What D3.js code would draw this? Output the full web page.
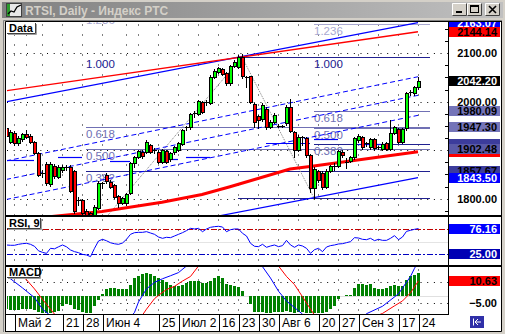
<!DOCTYPE html>
<html><head><meta charset="utf-8">
<script src="https://cdn.jsdelivr.net/npm/d3@7"></script>
<style>
html,body{margin:0;padding:0;background:#d4d0c8;overflow:hidden}
svg{display:block}
text{font-family:"Liberation Sans",Arial,sans-serif}
</style></head><body>
<svg id="chart" width="505" height="334"></svg>
<script>
// ---- RTSI daily bars, 27 Apr - 24 Sep 2007 ----
const dates = ["2007-04-27","2007-04-28","2007-05-02","2007-05-03","2007-05-04","2007-05-07","2007-05-08","2007-05-10","2007-05-11","2007-05-14",
"2007-05-15","2007-05-16","2007-05-17","2007-05-18","2007-05-21","2007-05-22","2007-05-23","2007-05-24","2007-05-25","2007-05-28",
"2007-05-29","2007-05-30","2007-05-31","2007-06-01","2007-06-04","2007-06-05","2007-06-06","2007-06-07","2007-06-08","2007-06-09",
"2007-06-13","2007-06-14","2007-06-15","2007-06-18","2007-06-19","2007-06-20","2007-06-21","2007-06-22","2007-06-25","2007-06-26",
"2007-06-27","2007-06-28","2007-06-29","2007-07-02","2007-07-03","2007-07-04","2007-07-05","2007-07-06","2007-07-09","2007-07-10",
"2007-07-11","2007-07-12","2007-07-13","2007-07-16","2007-07-17","2007-07-18","2007-07-19","2007-07-20","2007-07-23","2007-07-24",
"2007-07-25","2007-07-26","2007-07-27","2007-07-30","2007-07-31","2007-08-01","2007-08-02","2007-08-03","2007-08-06","2007-08-07",
"2007-08-08","2007-08-09","2007-08-10","2007-08-13","2007-08-14","2007-08-15","2007-08-16","2007-08-17","2007-08-20","2007-08-21",
"2007-08-22","2007-08-23","2007-08-24","2007-08-27","2007-08-28","2007-08-29","2007-08-30","2007-08-31","2007-09-03","2007-09-04",
"2007-09-05","2007-09-06","2007-09-07","2007-09-10","2007-09-11","2007-09-12","2007-09-13","2007-09-14","2007-09-17","2007-09-18",
"2007-09-19","2007-09-20","2007-09-21","2007-09-24"];
// empty slots to the right of the last bar (chart shift)
const futureDates = ["2007-09-25","2007-09-26","2007-09-27","2007-09-28","2007-10-01","2007-10-02","2007-10-03","2007-10-04"];

const open = [1945.8,1917.5,1934.8,1914.2,1922.5,1932.8,1929.9,1916.3,1893.6,1852.4,
1871.5,1830.3,1867.4,1844.7,1859.2,1865.3,1865.3,1857.1,1795.2,1796.3,
1774.6,1770.5,1762.2,1781.8,1831.7,1848.8,1835.0,1828.2,1805.5,1791.7,
1790.5,1812.4,1874.2,1886.6,1896.9,1896.9,1910.7,1900.4,1896.9,1876.3,
1898.3,1881.2,1896.3,1900.4,1912.8,1947.2,1947.2,1976.7,1974.6,1999.4,
2000.0,1997.9,2051.5,2060.6,2066.8,2058.6,2037.9,2073.6,2071.5,2092.2,
2050.3,2052.0,1995.3,1970.5,1963.7,1984.9,1948.4,1958.8,1950.9,1950.5,
1955.5,1990.1,1937.5,1900.4,1926.6,1925.1,1890.1,1821.4,1856.1,1854.0,
1824.1,1857.7,1867.4,1867.4,1897.3,1876.3,1878.3,1885.3,1921.0,1927.8,
1914.2,1906.0,1922.5,1906.0,1901.8,1914.2,1901.8,1934.8,1943.1,1917.5,
1945.1,2019.4,2017.3,2029.7];
const high = [1949.9,1941.6,1939.6,1929.3,1935.5,1941.6,1933.4,1919.0,1896.3,1859.2,
1875.7,1875.7,1871.5,1869.5,1869.5,1869.5,1869.5,1859.2,1803.5,1799.4,
1778.7,1772.6,1787.0,1836.5,1835.0,1853.0,1838.5,1830.3,1807.6,1803.5,
1812.4,1875.7,1888.0,1901.4,1900.4,1921.0,1913.8,1903.9,1900.4,1903.5,
1901.4,1896.3,1909.7,1916.9,1944.7,1949.9,1977.7,1980.8,2004.5,2002.5,
2004.5,2055.0,2067.4,2072.2,2069.5,2061.2,2076.7,2086.0,2096.3,2098.4,
2052.0,2054.0,1997.3,1972.6,1997.3,1989.1,1962.3,1975.7,1954.0,1953.0,
1993.2,2004.9,1939.6,1931.3,1930.3,1928.2,1893.2,1865.3,1859.2,1857.1,
1861.2,1870.5,1872.6,1901.4,1900.4,1883.9,1888.0,1927.2,1932.4,1930.3,
1917.9,1925.1,1925.1,1909.7,1915.9,1916.9,1962.3,1949.9,1945.8,1945.8,
2020.0,2024.1,2033.4,2051.5];
const low = [1925.1,1914.8,1910.7,1910.7,1919.0,1926.2,1914.8,1892.2,1846.8,1844.7,
1828.2,1826.2,1842.7,1842.7,1855.0,1859.2,1813.8,1770.5,1787.0,1768.4,
1740.0,1745.7,1751.9,1778.7,1821.4,1832.4,1822.0,1801.4,1783.5,1789.1,
1787.0,1809.7,1866.0,1883.9,1884.9,1894.2,1894.2,1893.6,1873.6,1873.6,
1873.6,1878.7,1893.2,1898.3,1910.7,1942.7,1944.7,1968.4,1972.6,1976.7,
1993.2,1995.3,2048.9,2058.6,2055.0,2034.4,2034.4,2071.5,2069.5,2049.9,
2030.9,1997.3,1947.8,1946.8,1960.2,1944.7,1945.8,1956.1,1947.8,1947.8,
1951.9,1937.5,1886.0,1898.3,1910.7,1886.0,1813.8,1801.5,1835.4,1821.0,
1822.0,1855.0,1860.2,1865.3,1887.0,1863.3,1875.7,1882.9,1917.9,1903.5,
1908.6,1903.5,1901.4,1902.5,1899.4,1899.4,1899.4,1932.4,1914.8,1914.8,
1942.7,2013.8,2014.8,2027.2];
const close = [1929.3,1936.9,1914.2,1925.8,1932.8,1927.8,1916.3,1893.6,1848.8,1850.9,
1832.4,1871.5,1846.8,1865.3,1865.3,1864.3,1815.9,1774.6,1796.3,1771.5,
1760.2,1754.0,1782.9,1832.4,1830.7,1836.5,1824.7,1804.1,1791.7,1800.8,
1809.7,1873.0,1885.3,1898.3,1888.0,1917.5,1896.9,1899.4,1876.3,1900.4,
1876.3,1893.6,1906.6,1914.2,1941.6,1945.8,1974.6,1975.7,2001.4,1979.4,
1998.8,2051.5,2064.3,2069.5,2057.1,2037.9,2073.6,2081.9,2093.2,2052.0,
2049.3,1999.4,1958.1,1963.3,1994.2,1947.8,1958.8,1972.6,1949.9,1949.5,
1989.7,1940.6,1900.4,1928.2,1925.1,1890.1,1822.0,1861.2,1838.5,1824.1,
1857.7,1867.4,1866.4,1899.0,1890.1,1875.2,1885.3,1924.5,1929.3,1906.0,
1913.2,1922.5,1903.9,1904.9,1912.8,1901.8,1934.8,1947.2,1917.5,1943.1,
2017.3,2018.3,2030.3,2042.2];

// RSI(9)
const rsi = [43.6,43.0,43.0,44.9,46.2,46.9,44.9,41.0,32.0,29.0,
27.0,37.0,36.0,40.0,43.6,40.0,33.7,30.4,28.4,25.0,
23.8,20.5,37.0,51.5,54.8,52.0,48.0,46.0,44.9,47.5,
54.8,64.7,68.0,68.6,68.6,70.0,67.3,64.7,59.4,56.8,
58.8,58.1,61.4,64.7,68.0,72.0,76.6,75.3,76.6,69.9,
75.3,78.6,79.9,80.6,79.2,69.9,73.9,75.3,75.3,66.7,
61.4,46.9,41.0,40.3,44.9,39.0,41.6,43.6,40.3,42.3,
52.8,43.6,39.0,43.6,41.6,37.0,27.1,34.3,37.0,30.4,
39.6,42.3,43.6,45.6,46.2,48.2,50.2,58.1,57.4,54.8,
54.1,56.8,52.2,54.8,52.8,52.8,56.8,62.1,54.1,59.4,
70.6,72.6,74.6,76.16];
const rsiLevels = [75, 25];

// MACD histogram
const macdHist = [-9.1,-9.6,-9.8,-9.6,-9.1,-8.7,-9.1,-9.6,-11.4,-11.9,
-11.9,-11.9,-11.4,-10.3,-6.8,-5.7,-6.4,-8.7,-9.6,-11.0,
-11.9,-11.9,-6.8,-2.7,1.8,4.6,5.7,5.7,4.6,4.6,
4.6,8.0,12.6,14.2,15.5,16.4,15.5,13.7,12.6,11.4,
9.6,8.0,6.8,6.8,8.0,9.1,10.3,10.3,10.3,9.1,
9.1,10.3,12.6,13.7,12.6,8.7,8.0,6.8,6.4,3.4,
0,-5.7,-11.0,-11.4,-11.4,-11.9,-11.9,-11.4,-11.0,-11.4,
-10.5,-11.4,-11.9,-11.4,-11.4,-11.9,-11.9,-11.9,-11.9,-11.9,
-11.4,-9.1,-6.8,-1.8,0,0.5,1.1,5.7,8.7,8.7,
8.0,8.7,5.7,4.6,5.0,5.7,6.8,8.0,6.8,6.8,
11.4,14.2,14.8,16.4];
// two oscillator lines sharing the MACD window (they run off its scale)
const blueOscDates = ["2007-04-27","2007-05-04","2007-05-10","2007-05-14","2007-05-17","2007-05-25","2007-06-05","2007-06-13","2007-06-15","2007-06-18",
"2007-06-20","2007-06-22","2007-06-26","2007-06-28","2007-07-02","2007-07-04","2007-07-11","2007-07-19","2007-07-27","2007-07-31",
"2007-08-02","2007-08-06","2007-08-08","2007-08-10","2007-08-14","2007-08-20","2007-08-28","2007-09-04","2007-09-05","2007-09-11",
"2007-09-17","2007-09-20","2007-09-21","2007-09-24"];
const blueOsc = [14.2,5.7,-1.1,-9.1,-16,-30,-28,-18,-11.4,-4.1,
5.0,9.6,12.1,14.2,16.4,21.0,35,38,28,20.5,
12.6,3.4,-3.4,-8.0,-12.6,-25,-26,-15,-12.3,-7.1,
1.6,13.7,19.4,24];
const redOscDates = ["2007-04-27","2007-04-28","2007-05-03","2007-05-07","2007-05-10","2007-05-14","2007-05-15","2007-05-16","2007-05-17","2007-05-25",
"2007-06-05","2007-06-13","2007-06-19","2007-06-20","2007-06-22","2007-06-25","2007-06-27","2007-06-29","2007-07-03","2007-07-05",
"2007-07-09","2007-07-18","2007-07-27","2007-08-06","2007-08-08","2007-08-10","2007-08-14","2007-08-16","2007-08-17","2007-08-24",
"2007-09-03","2007-09-10","2007-09-11","2007-09-14","2007-09-18","2007-09-20","2007-09-24"];
const redOsc = [23,21,16,11.4,5.0,-2.3,-5.7,-9.1,-12.6,-22,
-26,-20,-13.2,-9.1,-1.8,0.5,4.6,6.8,10.5,13.7,
21,32,30,21,13.7,8.0,-0.5,-9.1,-13.2,-24,
-22,-13.2,-12.1,-6.8,-3.4,2.3,10.63];

// moving average (thick red)
const maDates = ["2007-04-27","2007-05-16","2007-06-04","2007-06-26","2007-07-10","2007-07-19","2007-08-09","2007-08-16","2007-09-24"];
const maValues = [1755,1762.9,1773.8,1792.6,1808.6,1824.7,1861.2,1866.4,1896.9];

// channel / trend lines: [start value, end value] between first and last bar
const redTrend = [2022.5, 2144.14];
const blueChannelTop = [1999.6, 2163.07];
const blueChannelBottom = [1680.0, 1843.50];
const regressionLines = [[1877.9, 2051.5], [1839.6, 2013.2], [1798.3, 1971.9]];

// short horizontal blue levels
const levelStart = ["2007-04-27","2007-05-18","2007-06-06","2007-06-27","2007-07-04","2007-08-01","2007-08-17","2007-09-03"];
const levelEnd   = ["2007-05-10","2007-05-28","2007-06-14","2007-07-02","2007-07-12","2007-08-16","2007-08-27","2007-09-13"];
const levelValue = [1879.8,1885.4,1877.7,1881.8,1886.6,1915.5,1924.1,1913.8];

// Fibonacci retracements
const fiboLevels = [0, 0.382, 0.5, 0.618, 1, 1.236];
const fiboLevelText = ["0.000","0.382","0.500","0.618","1.000","1.236"];
const fiboA = {from:"2007-05-29", to:"2007-07-24", low:1712.58, high:2092.38};
const fiboB = {from:"2007-07-24", to:"2007-08-17", low:1801.5, high:2092};
const fiboEnd = "2007-09-27";

// right-hand price tags (1912.47 and 1896.90 sit under the 1902.48 tag)
const priceTagValues = [2163.07, 2144.14, 2042.20, 1980.09, 1947.30, 1912.47, 1896.90, 1902.48, 1857.67, 1843.50];
const priceAxisValues = [2100, 2000, 1800];
const priceGridValues = [2100, 2000, 1900, 1800];
const rsiTagValues = [76.16, 25.00];
const macdTagValues = [10.63, -5.00];
const macdGridValues = [10, -5];

// time axis labels
const tickDates = ["2007-05-02","2007-05-21","2007-05-28","2007-06-04","2007-06-25","2007-07-02","2007-07-16","2007-07-23","2007-07-30","2007-08-06","2007-08-20","2007-08-27","2007-09-03","2007-09-17","2007-09-24"];
const tickText = ["Май 2","21","28","Июн 4","25","Июл 2","16","23","30","Авг 6","20","27","Сен 3","17","24"];

const title = "RTSI, Daily - Индекс РТС";

// ---------------- drawing ----------------
const svg = d3.select("#chart");
const defs = svg.append("defs");

const P = {left:7, right:448, tagRight:500, mainTop:22, mainBot:215, rsiTop:217, rsiBot:265, macdTop:267, macdBot:314, axisBot:331};

const allDates = dates.concat(futureDates);
const x = d3.scalePoint().domain(allDates).range([6, 6 + 4 * (allDates.length - 1)]);
const yP = d3.scaleLinear().domain([1760, 2165]).range([218.1, 21.7]);
const yR = d3.scaleLinear().domain([0, 100]).range([267, 216.5]);
const yM = d3.scaleLinear().domain([-12.5, 20.3]).range([314, 267]);

function clip(id, x0, y0, x1, y1) {
  defs.append("clipPath").attr("id", id).append("rect")
    .attr("x", x0).attr("y", y0).attr("width", x1 - x0).attr("height", y1 - y0);
}
clip("cMain", P.left, P.mainTop, P.right, P.mainBot);
clip("cRsi", P.left, P.rsiTop, P.right, P.rsiBot);
clip("cMacd", P.left, P.macdTop, P.right, P.macdBot);
clip("cMainTags", P.right, P.mainTop, P.tagRight, P.mainBot);

const grad = defs.append("linearGradient").attr("id", "titleGrad");
grad.append("stop").attr("offset", "0").attr("stop-color", "#808080");
grad.append("stop").attr("offset", "1").attr("stop-color", "#c0c0c0");

// window frame
svg.append("rect").attr("width", 505).attr("height", 334).attr("fill", "#d4d0c8");
svg.append("rect").attr("x", 2).attr("y", 2).attr("width", 501).attr("height", 16).attr("fill", "url(#titleGrad)");
// window icon
const ic = svg.append("g");
ic.append("rect").attr("x", 6.5).attr("y", 3.5).attr("width", 15).attr("height", 13).attr("fill", "#e8e8e8").attr("stroke", "#404040");
ic.append("rect").attr("x", 7).attr("y", 4).attr("width", 3).attr("height", 12).attr("fill", "#2a9a2a");
ic.append("polyline").attr("points", "8,14 11,11 14,12 17,7 21,5").attr("fill", "none").attr("stroke", "#000").attr("stroke-width", 1.3);
svg.append("text").attr("x", 25).attr("y", 14.5).attr("font-size", 12).attr("font-weight", "bold")
  .attr("fill", "#d4d0c8").text(title);
// caption buttons
[[452, "min"], [467, "max"], [485, "close"]].forEach(([bx, kind]) => {
  const b = svg.append("g");
  b.append("rect").attr("x", bx).attr("y", 3).attr("width", 15).attr("height", 13).attr("fill", "#d4d0c8");
  b.append("path").attr("d", `M${bx + 0.5},${15.5}V${3.5}H${bx + 14.5}`).attr("fill", "none").attr("stroke", "#fff");
  b.append("path").attr("d", `M${bx + 0.5},${15.5}H${bx + 14.5}V${3.5}`).attr("fill", "none").attr("stroke", "#404040");
  if (kind === "min") b.append("rect").attr("x", bx + 4).attr("y", 11).attr("width", 6).attr("height", 2).attr("fill", "#000");
  if (kind === "max") { b.append("rect").attr("x", bx + 3.5).attr("y", 5.5).attr("width", 8).attr("height", 7).attr("fill", "none").attr("stroke", "#000"); b.append("rect").attr("x", bx + 3).attr("y", 5).attr("width", 9).attr("height", 2).attr("fill", "#000"); }
  if (kind === "close") b.append("path").attr("d", `M${bx + 4},${6}L${bx + 11},${13}M${bx + 11},${6}L${bx + 4},${13}`).attr("stroke", "#000").attr("stroke-width", 1.6);
});

// client area
svg.append("rect").attr("x", 6).attr("y", 21).attr("width", 495).attr("height", 310).attr("fill", "#fff");
svg.append("path").attr("d", "M3.5,332V20.5H502").attr("fill", "none").attr("stroke", "#808080");
svg.append("path").attr("d", "M5.5,331V21.5H501").attr("fill", "none").attr("stroke", "#000");
svg.append("path").attr("d", "M501.5,21V331.5H5").attr("fill", "none").attr("stroke", "#000");

// ---- grids ----
const weekStarts = dates.filter((d, i) => i > 0 && +d3.timeMonday(new Date(d)) !== +d3.timeMonday(new Date(dates[i - 1])));
function vGrid(y0, y1) {
  svg.append("g").selectAll("line").data(weekStarts).join("line")
    .attr("x1", d => x(d) + 0.5).attr("x2", d => x(d) + 0.5)
    .attr("y1", y0 + 1).attr("y2", y1)
    .attr("stroke", "#000").attr("stroke-dasharray", "1,9").attr("stroke-dashoffset", -1.5);
}
function hGrid(vals, scale) {
  svg.append("g").selectAll("line").data(vals).join("line")
    .attr("x1", P.left).attr("x2", P.right)
    .attr("y1", d => Math.round(scale(d)) + 0.5).attr("y2", d => Math.round(scale(d)) + 0.5)
    .attr("stroke", "#000").attr("stroke-dasharray", "1,5.67");
}
vGrid(P.mainTop, P.mainBot); vGrid(P.rsiTop, P.rsiBot); vGrid(P.macdTop, P.macdBot);
hGrid(priceGridValues, yP);
hGrid(macdGridValues, yM);

// ---- main window ----
const main = svg.append("g").attr("clip-path", "url(#cMain)");
const lastDate = dates[dates.length - 1], firstDate = dates[0];

function trend(vals, color, width, dash) {
  main.append("line").attr("x1", x(firstDate)).attr("x2", x(lastDate))
    .attr("y1", yP(vals[0])).attr("y2", yP(vals[1]))
    .attr("stroke", color).attr("stroke-width", width).attr("stroke-dasharray", dash || null);
}

// Fibonacci objects
const slate = "#7070b4", navy = "#202090", pale = "#a8a8d0";
function fiboPrice(f, lv) { return f.low + (f.high - f.low) * lv; }
function levelColor(lv) { return lv === 0.5 || lv === 0.618 ? slate : lv === 1.236 ? pale : navy; }
function drawFibo(f, labelDate, lineStart, shown) {
  fiboLevels.forEach((lv, k) => {
    if (!shown.includes(lv)) return;
    const yy = Math.round(yP(fiboPrice(f, lv))) + 0.5;
    const sd = lineStart(lv);
    if (sd) main.append("line").attr("x1", x(sd)).attr("x2", x(fiboEnd)).attr("y1", yy).attr("y2", yy)
      .attr("stroke", levelColor(lv));
    if (lv !== 0) main.append("text").attr("x", x(labelDate)).attr("y", yy + 10.5)
      .attr("font-size", 11.5).attr("fill", lv === 1 ? navy : (lv === 1.236 ? pale : slate)).text(fiboLevelText[k]);
  });
}
drawFibo(fiboA, fiboA.from, lv => (lv === 1 || lv === 1.236) ? null : fiboA.from, [0.382, 0.5, 0.618, 1, 1.236]);
drawFibo(fiboB, fiboB.to, lv => (lv === 0 || lv === 1) ? "2007-07-23" : fiboB.to, [0, 0.382, 0.5, 0.618, 1, 1.236]);
// fibo base lines
[[fiboA.from, fiboA.low, fiboA.to, fiboA.high], [fiboB.from, fiboB.high, fiboB.to, fiboB.low]].forEach(([d0, v0, d1, v1]) => {
  main.append("line").attr("x1", x(d0)).attr("y1", yP(v0)).attr("x2", x(d1)).attr("y2", yP(v1))
    .attr("stroke", "#808080").attr("stroke-dasharray", "1,1");
});

// channels
regressionLines.forEach(v => trend(v, "#0000ff", 1, "5,3"));
trend(blueChannelTop, "#0000ff", 1.2);
trend(blueChannelBottom, "#0000ff", 1.2);
trend(redTrend, "#ff0000", 1.4);

// horizontal blue levels
levelValue.forEach((v, k) => {
  const yy = Math.round(yP(v)) + 0.5;
  main.append("line").attr("x1", x(levelStart[k])).attr("x2", x(levelEnd[k])).attr("y1", yy).attr("y2", yy)
    .attr("stroke", "#0000ff").attr("stroke-width", 1.2);
});

// moving average
main.append("path").datum(maDates.map((d, k) => [d, maValues[k]]))
  .attr("d", d3.line().x(d => x(d[0])).y(d => yP(d[1])))
  .attr("fill", "none").attr("stroke", "#ff0000").attr("stroke-width", 3);

// candles: black outline, coloured body
const cg = main.append("g");
dates.forEach((d, i) => {
  const xc = x(d);
  cg.append("line").attr("x1", xc + 0.5).attr("x2", xc + 0.5)
    .attr("y1", Math.round(yP(high[i]))).attr("y2", Math.round(yP(low[i])) + 1).attr("stroke", "#000");
  const t = Math.round(yP(Math.max(open[i], close[i]))), b = Math.round(yP(Math.min(open[i], close[i])));
  if (b - t < 2) {
    cg.append("rect").attr("x", xc - 1).attr("y", t).attr("width", 4).attr("height", Math.max(1, b - t)).attr("fill", "#000");
  } else {
    cg.append("rect").attr("x", xc - 1).attr("y", t).attr("width", 4).attr("height", b - t + 1).attr("fill", "#000");
    cg.append("rect").attr("x", xc).attr("y", t + 1).attr("width", 2).attr("height", b - t - 1)
      .attr("fill", close[i] >= open[i] ? "#00ff00" : "#ff0000");
  }
});

// ---- RSI window ----
const rg = svg.append("g").attr("clip-path", "url(#cRsi)");
rg.append("line").attr("x1", P.left).attr("x2", P.right).attr("y1", Math.round(yR(50)) + 0.5).attr("y2", Math.round(yR(50)) + 0.5).attr("stroke", "#e4e4e4");
rsiLevels.forEach((lv, k) => {
  const yy = Math.round(yR(lv)) + 0.5;
  rg.append("line").attr("x1", P.left).attr("x2", P.right).attr("y1", yy).attr("y2", yy)
    .attr("stroke", k === 0 ? "#c00000" : "#0000c0").attr("stroke-dasharray", "6,2,2,2");
});
rg.append("path").datum(rsi).attr("d", d3.line().x((v, i) => x(dates[i]) + 0.5).y(v => yR(v)))
  .attr("fill", "none").attr("stroke", "#0000ff");

// ---- MACD window ----
const mg = svg.append("g").attr("clip-path", "url(#cMacd)");
mg.append("line").attr("x1", P.left).attr("x2", P.right).attr("y1", Math.round(yM(0)) + 0.5).attr("y2", Math.round(yM(0)) + 0.5).attr("stroke", "#e0e0e0");
dates.forEach((d, i) => {
  const v = macdHist[i];
  if (!v) return;
  const y0 = Math.round(yM(0)), y1 = Math.round(yM(v));
  mg.append("rect").attr("x", x(d) - 1).attr("y", Math.min(y0, y1)).attr("width", 3).attr("height", Math.abs(y1 - y0))
    .attr("fill", "#008000");
});
mg.append("path").datum(blueOscDates.map((d, k) => [d, blueOsc[k]]))
  .attr("d", d3.line().x(d => x(d[0]) + 0.5).y(d => yM(d[1]))).attr("fill", "none").attr("stroke", "#0000ff");
mg.append("path").datum(redOscDates.map((d, k) => [d, redOsc[k]]))
  .attr("d", d3.line().x(d => x(d[0]) + 0.5).y(d => yM(d[1]))).attr("fill", "none").attr("stroke", "#ff0000");

// ---- panel borders ----
svg.append("rect").attr("x", 6).attr("y", P.mainBot).attr("width", 495).attr("height", 2).attr("fill", "#000");
svg.append("rect").attr("x", 6).attr("y", P.rsiBot).attr("width", 495).attr("height", 2).attr("fill", "#000");
svg.append("rect").attr("x", 6).attr("y", P.macdBot).attr("width", 443).attr("height", 1).attr("fill", "#000");
svg.append("rect").attr("x", P.right).attr("y", 21).attr("width", 1).attr("height", P.macdBot - 21 + 1).attr("fill", "#000");

// ---- right scale ----
const tagStyle = [
  {bg: "#0000ff", fg: "#fff"}, {bg: "#ff0000", fg: "#000"}, {bg: "#000", fg: "#fff"},
  {bg: "#7474b8", fg: "#000"}, {bg: "#7474b8", fg: "#000"}, {bg: "#3c3c9c", fg: "#000", hidden: true},
  {bg: "#ff0000", fg: "#000", hidden: true}, {bg: "#5a5aa8", fg: "#000"}, {bg: "#3c3c9c", fg: "#000"},
  {bg: "#0000ff", fg: "#fff"}];
function tag(g, yy, txt, st) {
  g.append("rect").attr("x", P.right + 1).attr("y", Math.round(yy) - 5).attr("width", P.tagRight - P.right - 1).attr("height", 10).attr("fill", st.bg);
  if (st.hidden) return; // covered by the neighbouring tag, only its edge shows
  g.append("text").attr("x", 497).attr("y", Math.round(yy) + 4).attr("text-anchor", "end")
    .attr("font-size", 11).attr("font-weight", "bold").attr("fill", st.fg).text(txt);
}
const tg = svg.append("g").attr("clip-path", "url(#cMainTags)");
priceAxisValues.forEach(v => {
  tg.append("text").attr("x", 497).attr("y", Math.round(yP(v)) + 4).attr("text-anchor", "end")
    .attr("font-size", 11).attr("font-weight", "bold").attr("fill", "#000").text(d3.format(".2f")(v));
  tg.append("line").attr("x1", P.right - 4).attr("x2", P.right).attr("y1", Math.round(yP(v)) + 0.5).attr("y2", Math.round(yP(v)) + 0.5).attr("stroke", "#000");
});
svg.append("g").selectAll("line").data(d3.range(1775, 2175, 25).filter(v => v % 100)).join("line")
  .attr("x1", P.right - 3).attr("x2", P.right).attr("y1", d => Math.round(yP(d)) + 0.5).attr("y2", d => Math.round(yP(d)) + 0.5).attr("stroke", "#000");
priceTagValues.forEach((v, k) => tag(tg, yP(v), d3.format(".2f")(v), tagStyle[k]));

const rsiTagStyle = [{bg: "#0000ff", fg: "#fff"}, {bg: "#0000b4", fg: "#fff"}];
rsiTagValues.forEach((v, k) => tag(svg, yR(v), d3.format(".2f")(v), rsiTagStyle[k]));
tag(svg, yM(macdTagValues[0]), d3.format(".2f")(macdTagValues[0]), {bg: "#ff0000", fg: "#000"});
svg.append("text").attr("x", 497).attr("y", Math.round(yM(macdTagValues[1])) + 4).attr("text-anchor", "end")
  .attr("font-size", 11).attr("font-weight", "bold").text(d3.format(".2f")(macdTagValues[1]));

// ---- window captions ----
function caption(x0, y0, w, txt) {
  const g = svg.append("g");
  g.append("rect").attr("x", x0).attr("y", y0).attr("width", w).attr("height", 11).attr("fill", "#fff");
  g.append("path").attr("d", `M${x0 + w - 0.5},${y0}V${y0 + 10.5}H${x0}`).attr("fill", "none").attr("stroke", "#404040");
  g.append("path").attr("d", `M${x0 + w + 0.5},${y0 + 1}V${y0 + 11.5}H${x0 + 1}`).attr("fill", "none").attr("stroke", "#a0a0a0");
  g.append("text").attr("x", x0 + 2).attr("y", y0 + 9).attr("font-size", 11).attr("font-weight", "bold").text(txt);
}
caption(7, 23, 29, "Data");
caption(7, 218, 34, "RSI, 9");
caption(7, 267, 33, "MACD");

// ---- time axis ----
const ag = svg.append("g");
tickDates.forEach((d, k) => {
  const xx = x(d) + 1;
  ag.append("line").attr("x1", xx + 0.5).attr("x2", xx + 0.5).attr("y1", 315).attr("y2", 331).attr("stroke", "#000");
  ag.append("text").attr("x", xx + 3).attr("y", 327).attr("font-size", 12).attr("fill", "#000").text(tickText[k]);
});
// scroll-to-end button
const sb = svg.append("g");
sb.append("rect").attr("x", 470).attr("y", 316).attr("width", 14).attr("height", 12).attr("fill", "#3030a8");
sb.append("path").attr("d", "M473.5,318.5V325.5M475,322H481M475,322L478,319M475,322L478,325").attr("stroke", "#fff").attr("fill", "none");
</script></body></html>
